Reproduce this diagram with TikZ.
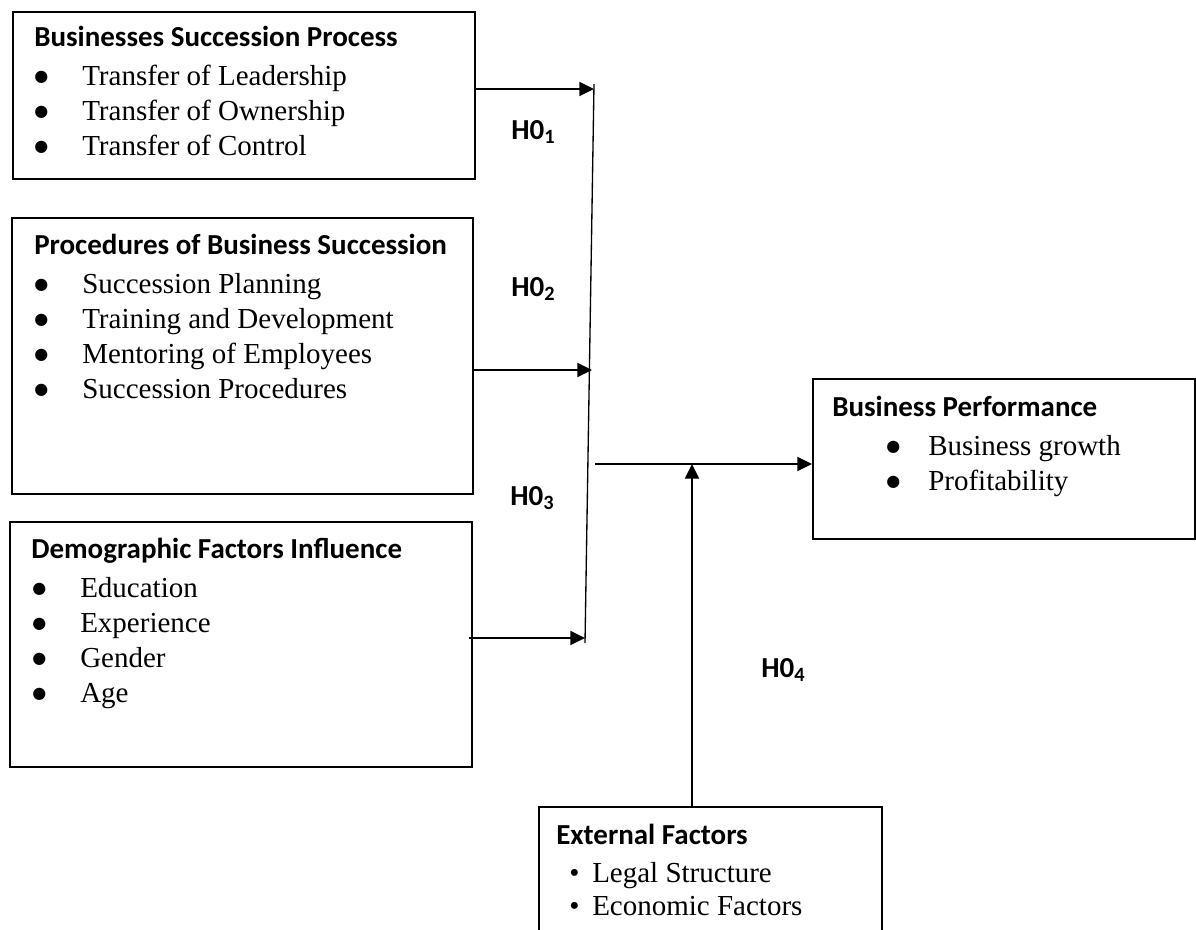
\documentclass[tikz,border=0pt]{standalone}
\usepackage{fontspec}
\setmainfont{Liberation Serif}
\newfontfamily\calfont{Carlito}
\newfontfamily\symfont{DejaVu Sans}
\usetikzlibrary{arrows.meta,positioning,calc}

\newcommand{\bigbul}{\raisebox{2.6pt}{\symfont\fontsize{12}{12}\selectfont ●}}
\newcommand{\bitem}[2]{\makebox[#1][l]{\bigbul}#2}
\newcommand{\sitem}[2]{\makebox[#1][l]{\textbullet}#2}

\begin{document}
\begin{tikzpicture}[x=0.75pt, y=-0.75pt, >={Triangle[length=11pt,width=10.5pt]},
  font=\fontsize{21.75}{26}\selectfont]
\tikzset{box/.style = {draw, rectangle, line width=1.3pt, inner sep=0pt,
  anchor=north west},
  head/.style = {font=\calfont\bfseries\fontsize{21.75}{26}\selectfont,
  inner sep=0pt, anchor=base west},
  item/.style = {inner sep=0pt, anchor=base west},
  link/.style = {line width=1.5pt}}

  \clip (0,0) rectangle (1196,929);

  % left column
  \node[box, minimum width=346.5pt, minimum height=125.25pt] (bsp) at (12,11) {};
  \node[head] (bspT) at (34,46) {Businesses Succession Process};
  \node[item] (bsp1) at (34,85) {\bitem{36pt}{Transfer of Leadership}};
  \node[item] (bsp2) at (34,120) {\bitem{36pt}{Transfer of Ownership}};
  \node[item] (bsp3) at (34,155) {\bitem{36pt}{Transfer of Control}};

  \node[box, minimum width=345.75pt, minimum height=207pt] (pbs) at (11,217) {};
  \node[head] (pbsT) at (34,254) {Procedures of Business Succession};
  \node[item] (pbs1) at (34,293) {\bitem{36pt}{Succession Planning}};
  \node[item] (pbs2) at (34,328) {\bitem{36pt}{Training and Development}};
  \node[item] (pbs3) at (34,363) {\bitem{36pt}{Mentoring of Employees}};
  \node[item] (pbs4) at (34,398) {\bitem{36pt}{Succession Procedures}};

  \node[box, minimum width=346.5pt, minimum height=183.75pt] (dfi) at (9,521) {};
  \node[head] (dfiT) at (31,558) {Demographic Factors Influence};
  \node[item] (dfi1) at (32,597) {\bitem{36pt}{Education}};
  \node[item] (dfi2) at (32,632) {\bitem{36pt}{Experience}};
  \node[item] (dfi3) at (32,667) {\bitem{36pt}{Gender}};
  \node[item] (dfi4) at (32,702) {\bitem{36pt}{Age}};

  % right side
  \node[box, minimum width=286.5pt, minimum height=120pt] (bperf) at (812,378) {};
  \node[head] (bperfT) at (832,416) {Business Performance};
  \node[item] (bperf1) at (886,455) {\bitem{31.5pt}{Business growth}};
  \node[item] (bperf2) at (886,490) {\bitem{31.5pt}{Profitability}};

  \node[box, minimum width=257.25pt, minimum height=120pt] (extf) at (538,806) {};
  \node[head] (extfT) at (556,844) {External Factors};
  \node[item] (extf1) at (569,882) {\sitem{17.25pt}{Legal Structure}};
  \node[item] (extf2) at (569,915) {\sitem{17.25pt}{Economic Factors}};

  % hypotheses
  \node[head] (h1) at (511,139) {H0\textsubscript{1}};
  \node[head] (h2) at (511,296) {H0\textsubscript{2}};
  \node[head] (h3) at (510,505) {H0\textsubscript{3}};
  \node[head] (h4) at (761,677) {H0\textsubscript{4}};

  % connectors
  \coordinate (jtop) at (594,84);
  \coordinate (jbot) at (585,643);
  \coordinate (in1) at (594,89);
  \coordinate (in2) at (592,370);
  \coordinate (in3) at (585,638);
  \coordinate (out) at (595,464);
  \coordinate (mod) at (692,464);

  \draw[line width=1pt] (jtop) -- (jbot);
  \draw[link,->] (bsp.east |- in1) -- (in1);
  \draw[link,->] (pbs.east |- in2) -- (in2);
  \draw[link,->] ($(dfi.east |- in3)+(-4,0)$) -- (in3);
  \draw[link,->] (out) -- (bperf.west |- out);
  \draw[link,->] (mod |- extf.north) -- (mod);

\end{tikzpicture}
\end{document}
